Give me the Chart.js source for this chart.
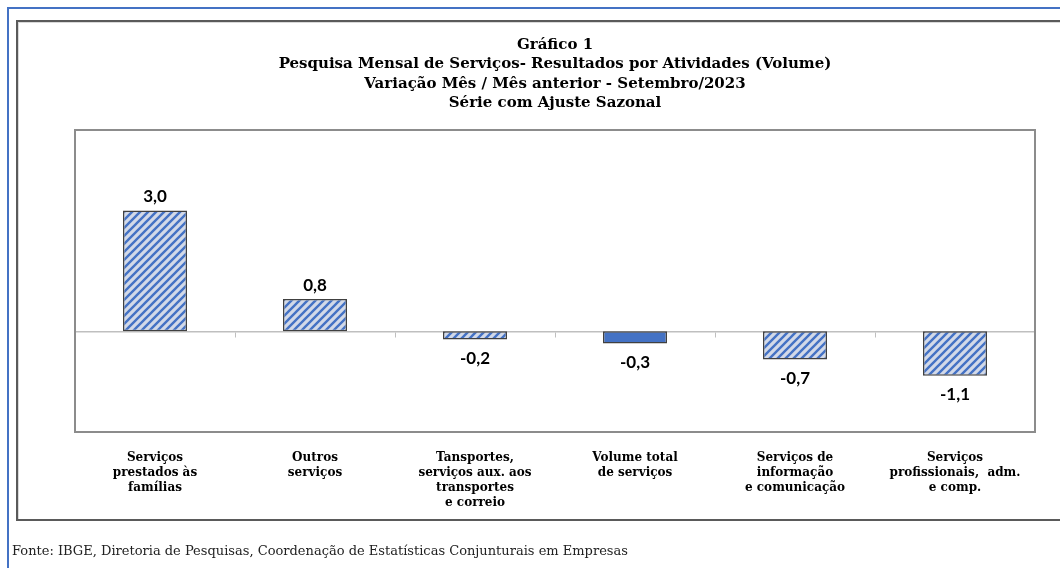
<!DOCTYPE html>
<html>
<head>
<meta charset="utf-8">
<script src="https://cdn.jsdelivr.net/npm/chart.js@4"></script>
<style>
  html, body { margin: 0; padding: 0; background: #fff; }
  body { width: 1060px; height: 568px; position: relative; overflow: hidden; }
  #outer { position: absolute; left: 7px; top: 7px; width: 1100px; height: 600px; border-left: 2px solid #4472c4; border-top: 2px solid #4472c4; }
  #frame { position: absolute; left: 16px; top: 20px; width: 1100px; height: 497px; border: 2px solid #5a5a5a; box-shadow: inset 1px 1px 0 #d9d9d9; }
  #wrap { position: absolute; left: 0; top: 0; width: 1060px; height: 568px; }
  #fonte { position: absolute; left: 12px; top: 543px; font-family: "DejaVu Serif", serif; font-size: 13px; color: #222; white-space: nowrap; }
</style>
</head>
<body>
<div id="outer"></div>
<div id="frame"></div>
<div id="wrap"><canvas id="grafico" width="1060" height="568"></canvas></div>
<div id="fonte">Fonte: IBGE, Diretoria de Pesquisas, Coordenação de Estatísticas Conjunturais em Empresas</div>
<script>
// categorias e valores (variação % mês / mês anterior, set/2023)
var categorias = [
    ['Serviços', 'prestados às', 'famílias'],
    ['Outros', 'serviços'],
    ['Tansportes,', 'serviços aux. aos', 'transportes', 'e correio'],
    ['Volume total', 'de serviços'],
    ['Serviços de', 'informação', 'e comunicação'],
    ['Serviços', 'profissionais,  adm.', 'e comp.']
];
var valores = [3.0, 0.8, -0.2, -0.3, -0.7, -1.1];
var ehTotal = [false, false, false, true, false, false];

var titulo = [
    'Gráfico 1',
    'Pesquisa Mensal de Serviços- Resultados por Atividades (Volume)',
    'Variação Mês / Mês anterior - Setembro/2023',
    'Série com Ajuste Sazonal'
];

// hachura diagonal tipo Excel
function hachura() {
    var c = document.createElement('canvas');
    c.width = 8; c.height = 8;
    var g = c.getContext('2d');
    g.fillStyle = '#d2d9e8';
    g.fillRect(0, 0, 8, 8);
    g.strokeStyle = '#4472c4';
    g.lineWidth = 2.4;
    g.beginPath();
    g.moveTo(-2, 10); g.lineTo(10, -2);
    g.moveTo(-6, 6); g.lineTo(6, -6);
    g.moveTo(2, 14); g.lineTo(14, 2);
    g.stroke();
    return g.createPattern(c, 'repeat');
}

var padrao = hachura();
var cores = [];
for (var i = 0; i < valores.length; i++) {
    cores.push(ehTotal[i] ? '#4472c4' : padrao);
}

// moldura da area do grafico
var molduraPlugin = {
    id: 'moldura',
    beforeDatasetsDraw(chart) {
        var a = chart.chartArea, ctx = chart.ctx;
        ctx.save();
        ctx.strokeStyle = '#8c8c8c';
        ctx.lineWidth = 2;
        ctx.strokeRect(a.left, a.top, a.right - a.left, a.bottom - a.top);
        ctx.restore();
    }
};

// rotulos dos valores
var rotulosPlugin = {
    id: 'rotulos',
    afterDatasetsDraw(chart) {
        var ctx = chart.ctx;
        var meta = chart.getDatasetMeta(0);
        ctx.save();
        ctx.font = 'bold 17px Lato';
        ctx.fillStyle = '#000';
        ctx.textAlign = 'center';
        ctx.textBaseline = 'middle';
        meta.data.forEach(function (bar, i) {
            var v = valores[i];
            var txt = v.toFixed(1).replace('.', ',');
            var y = v >= 0 ? bar.y - 14 : bar.y + 19;
            ctx.fillText(txt, bar.x, y);
        });
        ctx.restore();
    }
};

var ctx = document.getElementById('grafico').getContext('2d');
var chart = new Chart(ctx, {
    type: 'bar',
    data: {
        labels: categorias,
        datasets: [{
            data: valores,
            backgroundColor: cores,
            borderColor: '#404040',
            borderWidth: 1.5,
            borderSkipped: false,
            barPercentage: 0.4,
            categoryPercentage: 1.0,
            xAxisID: 'x'
        }]
    },
    options: {
        responsive: false,
        animation: false,
        layout: { padding: { left: 75, right: 25, top: 0, bottom: 50 } },
        plugins: {
            legend: { display: false },
            tooltip: { enabled: false },
            title: {
                display: true,
                text: titulo,
                color: '#000',
                font: { family: 'DejaVu Serif', size: 15, weight: 'bold', lineHeight: 1.3 },
                padding: { top: 35, bottom: 17 }
            }
        },
        scales: {
            y: { display: false, min: -2.5, max: 5 },
            x: {
                position: 'bottom',
                grid: { display: false },
                border: { display: false },
                ticks: {
                    color: '#000',
                    font: { family: 'DejaVu Serif', size: 12, weight: 'bold', lineHeight: 1.25 },
                    padding: 10,
                    maxRotation: 0,
                    autoSkip: false
                },
                afterFit: function (s) { s.height = 86; }
            },
            x0: {
                type: 'category',
                position: { y: 0 },
                offset: true,
                grid: { offset: true, drawOnChartArea: false, tickLength: 5, color: '#bfbfbf', lineWidth: 1 },
                border: { color: '#bfbfbf', width: 1.5 },
                ticks: { display: false }
            }
        }
    },
    plugins: [molduraPlugin, rotulosPlugin]
});
</script>
</body>
</html>
